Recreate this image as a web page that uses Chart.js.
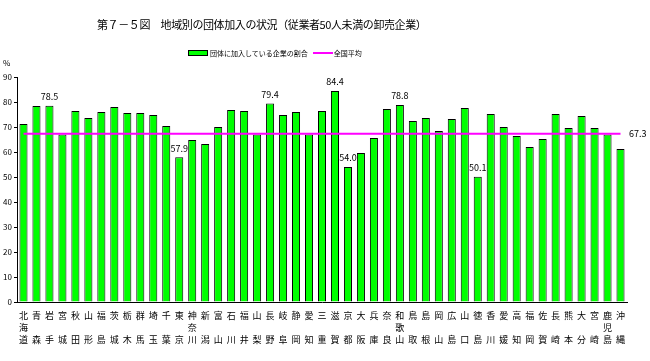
<!DOCTYPE html>
<html>
<head>
<meta charset="utf-8">
<script src="https://cdn.jsdelivr.net/npm/chart.js@4/dist/chart.umd.min.js"></script>
<style>
  body { margin: 0; background: #fff; }
  #wrap { position: relative; width: 650px; height: 361px; font-family: "Noto Sans CJK JP", sans-serif; color: #000; }
  #wrap canvas { position: absolute; left: 0; top: 0; }
  .title { position: absolute; left: 97px; top: 16px; font-size: 11px; line-height: 16px; white-space: nowrap; letter-spacing: -0.4px; }
  .legend { position: absolute; left: 188px; top: 46px; height: 12px; font-size: 7px; line-height: 12px; white-space: nowrap; }
  .legend span { display: inline-block; vertical-align: middle; }
  .box { width: 18px; height: 4px; background: #00ff00; border: 1px solid #000; margin-right: 2px; }
  .ln { width: 20px; height: 2px; background: #ff00ff; margin: 0 1px 0 5px; }
  .unit { position: absolute; left: 3px; top: 58px; font-size: 8px; line-height: 10px; }
</style>
</head>
<body>
<div id="wrap">
  <canvas id="chart" width="650" height="361"></canvas>
  <div class="title">第７－５図　地域別の団体加入の状況（従業者50人未満の卸売企業）</div>
  <div class="legend"><span class="box"></span><span>団体に加入している企業の割合</span><span class="ln"></span><span>全国平均</span></div>
  <div class="unit">%</div>
</div>
<script>
// ===== Data =====
const prefectures = [
  '北海道', '青森', '岩手', '宮城', '秋田', '山形', '福島', '茨城', '栃木', '群馬',
  '埼玉', '千葉', '東京', '神奈川', '新潟', '富山', '石川', '福井', '山梨', '長野',
  '岐阜', '静岡', '愛知', '三重', '滋賀', '京都', '大阪', '兵庫', '奈良', '和歌山',
  '鳥取', '島根', '岡山', '広島', '山口', '徳島', '香川', '愛媛', '高知', '福岡',
  '佐賀', '長崎', '熊本', '大分', '宮崎', '鹿児島', '沖縄'
];
const joinRate = [
  71.2, 78.4, 78.5, 67.0, 76.4, 73.6, 76.0, 78.0, 75.6, 75.6,
  74.8, 70.4, 57.9, 64.8, 63.2, 70.0, 76.8, 76.4, 67.0, 79.4,
  74.8, 76.0, 67.0, 76.4, 84.4, 54.0, 59.6, 65.6, 77.2, 78.8,
  72.4, 73.6, 68.4, 73.2, 77.6, 50.1, 75.2, 70.0, 66.4, 62.0,
  65.2, 75.2, 69.6, 74.4, 69.6, 67.0, 61.2
];
const nationalAvg = 67.3;
const labeled = ['岩手', '東京', '長野', '滋賀', '京都', '和歌山', '徳島'];
const yTicks = [0, 10, 20, 30, 40, 50, 60, 70, 80, 90];

// vertical labels: first char / middle char / last char
const xLabels = prefectures.map(p => p.length === 3 ? [p[0], p[1], p[2]] : [p[0], '', p[1]]);

const font = '"Noto Sans CJK JP", sans-serif';

// ===== Value labels =====
const valueLabels = {
  id: 'valueLabels',
  afterDatasetsDraw(chart) {
    const { ctx, chartArea } = chart;
    const x = chart.scales.x, y = chart.scales.y;
    ctx.save();
    ctx.font = '9px ' + font;
    ctx.fillStyle = '#000';
    ctx.textAlign = 'center';
    ctx.textBaseline = 'middle';
    labeled.forEach(name => {
      const i = prefectures.indexOf(name);
      ctx.fillText(joinRate[i].toFixed(1), x.getPixelForValue(i), y.getPixelForValue(joinRate[i]) - 9);
    });
    ctx.textAlign = 'left';
    ctx.fillText(nationalAvg.toFixed(1), chartArea.right + 2, y.getPixelForValue(nationalAvg));
    ctx.restore();
  }
};

const ctx = document.getElementById('chart').getContext('2d');
new Chart(ctx, {
  data: {
    labels: xLabels,
    datasets: [
      {
        type: 'line',
        label: '全国平均',
        data: prefectures.map(() => nationalAvg),
        borderColor: '#ff00ff',
        borderWidth: 2,
        pointRadius: 0,
        order: 0
      },
      {
        type: 'bar',
        label: '団体に加入している企業の割合',
        data: joinRate,
        backgroundColor: '#00ff00',
        borderColor: '#000',
        borderWidth: 1,
        barPercentage: 0.62,
        categoryPercentage: 1.0,
        order: 1
      }
    ]
  },
  options: {
    responsive: false,
    animation: false,
    layout: { padding: { top: 77, right: 23, left: 0, bottom: 0 } },
    plugins: { legend: { display: false }, tooltip: { enabled: false } },
    scales: {
      x: {
        grid: { display: false },
        border: { color: '#000', width: 1 },
        ticks: {
          autoSkip: false, maxRotation: 0, minRotation: 0, padding: 0,
          color: '#000', font: { family: font, size: 9, lineHeight: '12px' }
        },
        afterFit(scale) { scale.height = 59; }
      },
      y: {
        min: 0, max: 90,
        afterBuildTicks(scale) { scale.ticks = yTicks.map(v => ({ value: v })); },
        grid: { drawOnChartArea: false, drawTicks: true, tickLength: 3, color: '#000' },
        border: { color: '#000', width: 1 },
        ticks: { padding: 2, color: '#000', font: { family: font, size: 8 } },
        afterFit(scale) { scale.width = 17; }
      }
    }
  },
  plugins: [valueLabels]
});
</script>
</body>
</html>
